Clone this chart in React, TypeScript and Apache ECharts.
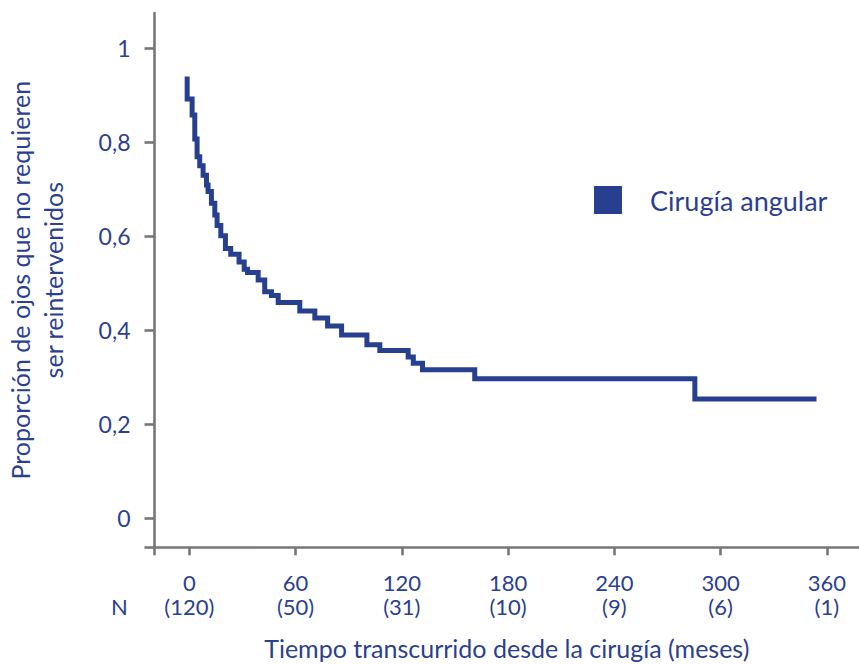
import React, { useEffect, useRef } from "react";
import * as echarts from "echarts";

// Kaplan–Meier steps: month at which the curve steps, proportion after the step
const stepMonths = [-1.2, -1.2, 1.6, 3.1, 4.4, 5.9, 7.8, 9.7, 10.6, 12.5, 14.4, 15.7, 17.8, 20.4, 23.4, 28.1, 31.0, 32.9, 38.9, 42.6, 46.4, 50.2, 62.4, 70.9, 78.1, 86.0, 100.3, 107.6, 123.6, 126.5, 131.7, 161.2, 285.5, 354.2];
const stepValues = [0.94, 0.892, 0.858, 0.807, 0.769, 0.75, 0.73, 0.709, 0.695, 0.67, 0.645, 0.623, 0.601, 0.574, 0.562, 0.545, 0.53, 0.523, 0.507, 0.482, 0.474, 0.459, 0.441, 0.426, 0.409, 0.39, 0.369, 0.357, 0.343, 0.33, 0.316, 0.297, 0.254, 0.254];

const xTicks = [0, 60, 120, 180, 240, 300, 360];
const atRisk = ["120", "50", "31", "10", "9", "6", "1"];
const yTicks = [0, 0.2, 0.4, 0.6, 0.8, 1];

const seriesName = "Cirugía angular";
const xAxisTitle = "Tiempo transcurrido desde la cirugía (meses)";
const yAxisTitle = "Proporción de ojos que no requieren\nser reintervenidos";

const X_MIN = -19.65;
const X_MAX = 378.2;
const Y_MIN = -0.0617;
const Y_MAX = 1.075;

const BLUE = "#263f8f";
const TEXT = "#2b3f8f";
const GREY = "#777777";
const FONT = "Lato";

export default function App() {
  const ref = useRef<HTMLDivElement>(null);
  useEffect(() => {
    const chart = echarts.init(ref.current!, null, { renderer: "svg" });
    const data = stepMonths.map((m, i) => [m, stepValues[i]]);
    chart.setOption({
      animation: false,
      textStyle: { fontFamily: FONT, color: TEXT },
      grid: {
        left: 154.5,
        right: 0,
        top: 13,
        bottom: 116.7,
        containLabel: false,
        outerBoundsMode: "none",
      },
      legend: {
        left: 594,
        top: 186,
        padding: 0,
        icon: "rect",
        itemWidth: 28,
        itemHeight: 28,
        data: [seriesName],
        textStyle: { fontFamily: FONT, fontSize: 27, color: TEXT, padding: [0, 0, 0, 23] },
      },
      xAxis: [
        {
          type: "value",
          min: X_MIN,
          max: X_MAX,
          splitLine: { show: false },
          axisLine: { show: true, onZero: false, lineStyle: { color: GREY, width: 2.6 } },
          axisTick: {
            show: true,
            length: 8,
            customValues: [X_MIN, ...xTicks],
            lineStyle: { color: GREY, width: 2.6 },
          },
          axisLabel: {
            customValues: xTicks,
            margin: 24,
            fontFamily: FONT,
            fontSize: 22,
            color: TEXT,
            formatter: (v: number) => `${Math.round(v)}`,
          },
          name: xAxisTitle,
          nameLocation: "middle",
          nameGap: 88,
          nameTextStyle: { fontFamily: FONT, fontSize: 25, color: TEXT },
        },
        {
          type: "value",
          position: "bottom",
          min: X_MIN,
          max: X_MAX,
          splitLine: { show: false },
          axisLine: { show: false, onZero: false },
          axisTick: { show: false },
          axisLabel: {
            customValues: xTicks,
            margin: 48.5,
            fontFamily: FONT,
            fontSize: 22,
            color: TEXT,
            formatter: (v: number) => {
              const i = xTicks.indexOf(Math.round(v));
              return `(${atRisk[i]})`;
            },
          },
        },
      ],
      yAxis: {
        type: "value",
        min: Y_MIN,
        max: Y_MAX,
        splitLine: { show: false },
        axisLine: { show: true, onZero: false, lineStyle: { color: GREY, width: 2.6 } },
        axisTick: {
          show: true,
          length: 10,
          customValues: [Y_MIN, ...yTicks],
          lineStyle: { color: GREY, width: 2.6 },
        },
        axisLabel: {
          customValues: yTicks,
          margin: 24,
          fontFamily: FONT,
          fontSize: 23,
          color: TEXT,
          formatter: (v: number) =>
            v === 0 ? "0" : v === 1 ? "1" : v.toFixed(1).replace(".", ","),
        },
        name: yAxisTitle,
        nameLocation: "middle",
        nameRotate: 90,
        nameGap: 85,
        nameTextStyle: { fontFamily: FONT, fontSize: 25, lineHeight: 33, color: TEXT },
      },
      graphic: [
        {
          type: "text",
          left: 111,
          top: 595,
          style: { text: "N", fontFamily: FONT, fontSize: 22, fill: TEXT },
        },
      ],
      series: [
        {
          name: seriesName,
          type: "line",
          step: "end",
          data,
          xAxisIndex: 0,
          showSymbol: false,
          symbol: "none",
          color: BLUE,
          itemStyle: { color: BLUE },
          lineStyle: { color: BLUE, width: 5, cap: "butt", join: "miter" },
        },
      ],
    });
    return () => chart.dispose();
  }, []);
  return (
    <div
      ref={ref}
      style={{ position: "fixed", left: 0, top: 0, width: 859, height: 664, background: "#fff" }}
    />
  );
}
